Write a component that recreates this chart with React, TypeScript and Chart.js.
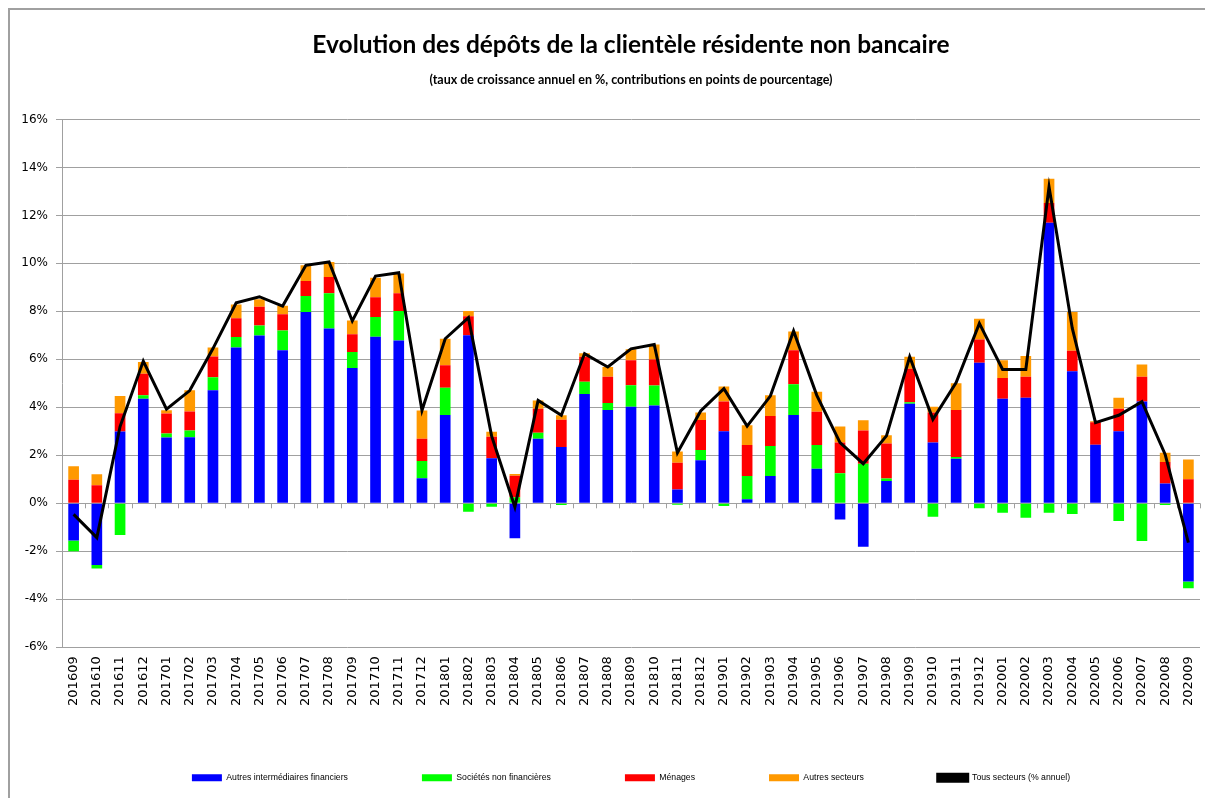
import React, { useEffect, useRef } from "react";
import { Chart, registerables } from "chart.js";

Chart.register(...registerables);

const categories = [
  "201609", "201610", "201611", "201612", "201701", "201702", "201703", "201704", "201705", "201706",
  "201707", "201708", "201709", "201710", "201711", "201712", "201801", "201802", "201803", "201804",
  "201805", "201806", "201807", "201808", "201809", "201810", "201811", "201812", "201901", "201902",
  "201903", "201904", "201905", "201906", "201907", "201908", "201909", "201910", "201911", "201912",
  "202001", "202002", "202003", "202004", "202005", "202006", "202007", "202008", "202009",
];

const autresIntermediaires = [
  -1.55, -2.57, 2.99, 4.36, 2.74, 2.75, 4.71, 6.49, 6.99, 6.38,
  7.97, 7.29, 5.64, 6.94, 6.79, 1.04, 3.68, 7.0, 1.88, -1.46,
  2.69, 2.35, 4.56, 3.89, 4.03, 4.08, 0.58, 1.8, 3.0, 0.17,
  1.14, 3.68, 1.44, -0.67, -1.81, 0.93, 4.15, 2.53, 1.86, 5.86,
  4.36, 4.4, 11.69, 5.5, 2.44, 3.0, 4.24, 0.83, -3.26,
];

const societesNonFinancieres = [
  -0.45, -0.15, -1.32, 0.14, 0.17, 0.29, 0.54, 0.44, 0.42, 0.82,
  0.67, 1.46, 0.67, 0.82, 1.22, 0.72, 1.14, -0.35, -0.14, 0.25,
  0.25, -0.07, 0.51, 0.29, 0.89, 0.83, -0.06, 0.42, -0.11, 0.97,
  1.25, 1.28, 0.99, 1.25, 1.65, 0.1, 0.06, -0.56, 0.07, -0.2,
  -0.39, -0.6, -0.39, -0.44, 0.0, -0.74, -1.57, -0.07, -0.28,
];

const menages = [
  0.98, 0.75, 0.76, 0.9, 0.83, 0.79, 0.87, 0.78, 0.78, 0.68,
  0.63, 0.68, 0.74, 0.83, 0.74, 0.93, 0.93, 0.8, 0.89, 0.9,
  1.0, 1.13, 1.04, 1.1, 1.04, 1.08, 1.11, 1.25, 1.24, 1.29,
  1.25, 1.42, 1.39, 1.28, 1.39, 1.46, 1.4, 1.25, 1.96, 0.97,
  0.86, 0.88, 0.83, 0.86, 0.94, 0.94, 1.04, 0.89, 1.0,
];

const autresSecteurs = [
  0.57, 0.46, 0.72, 0.49, 0.14, 0.88, 0.37, 0.58, 0.32, 0.35,
  0.65, 0.63, 0.57, 0.81, 0.83, 1.18, 1.11, 0.21, 0.21, 0.07,
  0.35, 0.19, 0.14, 0.4, 0.46, 0.63, 0.47, 0.31, 0.63, 0.82,
  0.86, 0.78, 0.83, 0.67, 0.42, 0.35, 0.5, 0.24, 1.11, 0.86,
  0.74, 0.86, 1.01, 1.61, 0.04, 0.46, 0.51, 0.39, 0.83,
];

const tousSecteurs = [
  -0.46, -1.43, 3.2, 5.93, 3.92, 4.7, 6.45, 8.36, 8.61, 8.22,
  9.92, 10.06, 7.6, 9.47, 9.61, 3.87, 6.86, 7.74, 2.8, -0.15,
  4.29, 3.67, 6.24, 5.68, 6.44, 6.62, 2.11, 3.85, 4.78, 3.22,
  4.47, 7.18, 4.5, 2.53, 1.65, 2.81, 6.11, 3.5, 5.03, 7.5,
  5.58, 5.58, 13.19, 7.3, 3.36, 3.67, 4.24, 2.04, -1.64,
];

const seriesLabels = [
  "Autres intermédiaires financiers",
  "Sociétés non financières",
  "Ménages",
  "Autres secteurs",
  "Tous secteurs (% annuel)",
];

const zeroTicksPlugin = {
  id: "zeroTicks",
  afterLayout(chart: any) {
    // let the rotated category labels extend below the axis box (no clipping)
    const x = chart.scales.x;
    x.bottom = x.top + 90;
  },
  beforeDatasetsDraw(chart: any) {
    const x = chart.scales.x;
    const y = chart.scales.y;
    const y0 = y.getPixelForValue(0);
    const ctx = chart.ctx;
    ctx.save();
    ctx.strokeStyle = "#a0a0a0";
    ctx.lineWidth = 1;
    const n = categories.length;
    const step = x.getPixelForValue(1) - x.getPixelForValue(0);
    for (let i = 0; i <= n; i++) {
      const px = x.getPixelForValue(0) + (i - 0.5) * step;
      ctx.beginPath();
      ctx.moveTo(Math.round(px) + 0.5, y0);
      ctx.lineTo(Math.round(px) + 0.5, y0 + 5);
      ctx.stroke();
    }
    ctx.restore();
  },
};

export default function App() {
  const ref = useRef<HTMLCanvasElement | null>(null);

  useEffect(() => {
    if (!ref.current) return;
    const barCommon = {
      type: "bar" as const,
      stack: "bars",
      barPercentage: 0.46,
      categoryPercentage: 1,
      borderWidth: 0,
      order: 1,
    };
    const chart = new Chart(ref.current, {
      type: "bar",
      data: {
        labels: categories,
        datasets: [
          { ...barCommon, label: seriesLabels[0], data: autresIntermediaires, backgroundColor: "#0000ff" },
          { ...barCommon, label: seriesLabels[1], data: societesNonFinancieres, backgroundColor: "#00ff00" },
          { ...barCommon, label: seriesLabels[2], data: menages, backgroundColor: "#ff0000" },
          { ...barCommon, label: seriesLabels[3], data: autresSecteurs, backgroundColor: "#ff9900" },
          {
            type: "line" as const,
            label: seriesLabels[4],
            data: tousSecteurs,
            stack: "line",
            borderColor: "#000000",
            backgroundColor: "#000000",
            borderWidth: 3,
            pointRadius: 0,
            tension: 0,
            order: 0,
          } as any,
        ],
      },
      options: {
        animation: false,
        responsive: true,
        maintainAspectRatio: false,
        layout: { padding: { top: 0, left: 0, right: 5, bottom: 6 } },
        plugins: {
          title: {
            display: true,
            fullSize: false,
            text: "Evolution des dépôts de la clientèle résidente non bancaire",
            color: "#000",
            font: { family: "Lato", size: 24.5, weight: "bold" },
            padding: { top: 20, bottom: 0 },
          },
          subtitle: {
            display: true,
            fullSize: false,
            text: "(taux de croissance annuel en %, contributions en points de pourcentage)",
            color: "#000",
            font: { family: "Lato", size: 12.5, weight: "bold" },
            padding: { top: 13, bottom: 32 },
          },
          legend: {
            display: true,
            position: "bottom",
            fullSize: false,
            labels: {
              boxWidth: 30,
              boxHeight: 7,
              padding: 74,
              color: "#000",
              font: { family: "Liberation Sans", size: 8.7 },
              sort: (a: any, b: any) => a.datasetIndex - b.datasetIndex,
            },
          },
          tooltip: { enabled: false },
        },
        scales: {
          x: {
            stacked: true,
            offset: true,
            grid: { display: false, drawTicks: false },
            border: { display: false },
            ticks: {
              autoSkip: false,
              maxRotation: 90,
              minRotation: 90,
              padding: 9,
              color: "#000",
              font: { family: "DejaVu Sans", size: 13 },
            },
            afterFit: (s: any) => {
              s.height = 52;
              s.paddingLeft = 0;
              s.paddingRight = 0;
            },
          },
          y: {
            stacked: true,
            min: -6,
            max: 16,
            ticks: {
              stepSize: 2,
              padding: 8,
              color: "#000",
              font: { family: "DejaVu Sans", size: 12 },
              callback: (v: any) => `${v}%`,
            },
            grid: { color: "#a0a0a0", lineWidth: 1, tickLength: 6, drawTicks: true },
            border: { color: "#a0a0a0", width: 1 },
            afterFit: (s: any) => {
              s.width = 52;
            },
          },
        },
      } as any,
      plugins: [zeroTicksPlugin],
    });
    return () => chart.destroy();
  }, []);

  return (
    <div
      style={{
        position: "fixed",
        left: 8,
        top: 8,
        width: 1197,
        height: 790,
        boxSizing: "border-box",
        borderLeft: "2px solid #a0a0a0",
        borderTop: "2px solid #a0a0a0",
        background: "#fff",
      }}
    >
      <div style={{ position: "relative", width: 1195, height: 788 }}>
        <canvas ref={ref} />
      </div>
    </div>
  );
}
